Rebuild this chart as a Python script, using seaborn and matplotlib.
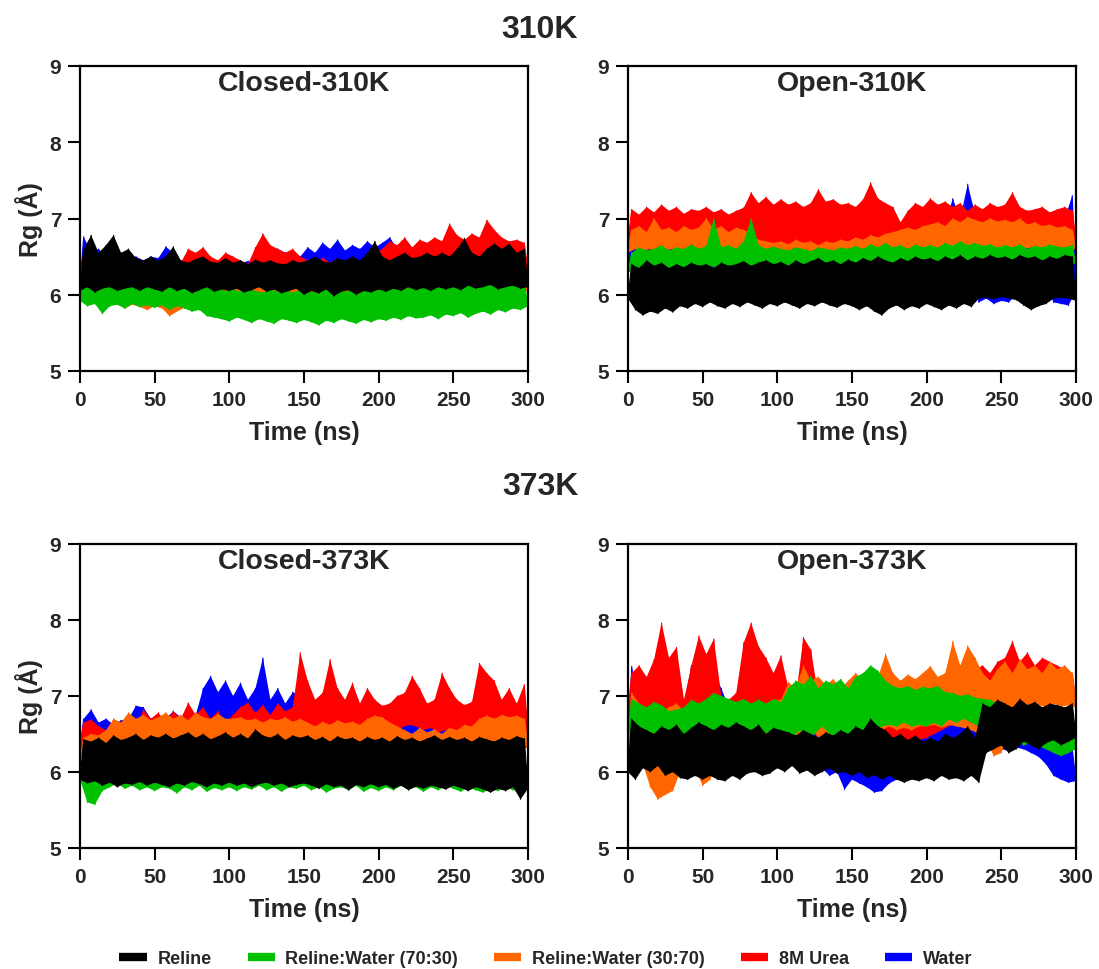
import numpy as np
import pandas as pd
import matplotlib
matplotlib.use("Agg")
import matplotlib.pyplot as plt
from matplotlib.lines import Line2D
from matplotlib.patches import Rectangle
import seaborn as sns

# ---------------------------------------------------------------------------
# Radius of gyration traces (Å) summarised by their troughs (every 5 ns)
# and peaks (half way between troughs).
# ---------------------------------------------------------------------------
SOLVENTS = ["Reline", "Reline:Water (70:30)", "Reline:Water (30:70)", "8M Urea", "Water"]
COLORS = ["#000000", "#00C000", "#FF6600", "#FF0000", "#0000FF"]
DRAW_ORDER = ["Water", "8M Urea", "Reline:Water (30:70)", "Reline:Water (70:30)", "Reline"]

TIME_LOW = np.arange(0, 301, 5)       # ns
TIME_HIGH = np.arange(2.5, 300, 5)    # ns

# ----------------------------- Closed-310K ---------------------------------
closed310_reline_hi = [6.6, 6.78, 6.55, 6.65, 6.78, 6.55, 6.6, 6.48, 6.45, 6.5,
                       6.45, 6.5, 6.63, 6.45, 6.42, 6.47, 6.5, 6.43, 6.42, 6.48,
                       6.42, 6.45, 6.4, 6.46, 6.42, 6.45, 6.41, 6.4, 6.45, 6.42,
                       6.45, 6.5, 6.44, 6.42, 6.48, 6.45, 6.5, 6.45, 6.55, 6.7,
                       6.5, 6.45, 6.5, 6.55, 6.48, 6.5, 6.55, 6.5, 6.55, 6.5,
                       6.6, 6.74, 6.55, 6.5, 6.6, 6.67, 6.6, 6.67, 6.55, 6.6]
closed310_reline_lo = [6.05, 6.1, 6.03, 6.08, 6.1, 6.05, 6.08, 6.1, 6.05, 6.1,
                       6.07, 6.04, 6.1, 6.05, 6.08, 6.02, 6.06, 6.1, 6.04, 6.07,
                       6.05, 6.08, 6.03, 6.06, 6.1, 6.04, 6.07, 6.02, 6.05, 6.08,
                       6.0, 6.05, 6.02, 6.07, 5.98, 6.04, 6.06, 6.0, 6.05, 6.03,
                       6.07, 6.04, 6.08, 6.05, 6.1, 6.06, 6.09, 6.05, 6.1, 6.07,
                       6.1, 6.06, 6.12, 6.08, 6.1, 6.13, 6.07, 6.1, 6.12, 6.08, 6.1]
closed310_rw7030_hi = [6.22, 6.18, 6.24, 6.2, 6.25, 6.2, 6.18, 6.22, 6.2, 6.24,
                       6.2, 6.18, 6.22, 6.17, 6.15, 6.12, 6.18, 6.1, 6.08, 6.05,
                       6.07, 6.04, 6.08, 6.05, 6.03, 6.07, 6.04, 6.06, 6.03, 6.07,
                       6.05, 6.03, 6.07, 6.05, 6.08, 6.04, 6.06, 6.03, 6.07, 6.05,
                       6.08, 6.06, 6.1, 6.07, 6.12, 6.08, 6.1, 6.12, 6.14, 6.1,
                       6.13, 6.15, 6.12, 6.16, 6.14, 6.18, 6.15, 6.17, 6.2, 6.16]
closed310_rw7030_lo = [5.92, 5.85, 5.88, 5.75, 5.85, 5.87, 5.82, 5.88, 5.84, 5.86,
                       5.83, 5.86, 5.8, 5.85, 5.82, 5.78, 5.8, 5.72, 5.7, 5.68,
                       5.65, 5.7, 5.67, 5.63, 5.68, 5.65, 5.62, 5.68, 5.66, 5.63,
                       5.67, 5.64, 5.6, 5.66, 5.63, 5.68, 5.65, 5.62, 5.67, 5.64,
                       5.68, 5.66, 5.7, 5.67, 5.72, 5.69, 5.7, 5.73, 5.68, 5.74,
                       5.72, 5.76, 5.7, 5.75, 5.78, 5.74, 5.8, 5.77, 5.82, 5.8, 5.85]
closed310_rw3070_hi = [6.35, 6.3, 6.38, 6.33, 6.36, 6.3, 6.35, 6.32, 6.36, 6.3,
                       6.33, 6.37, 6.3, 6.35, 6.32, 6.36, 6.3, 6.34, 6.38, 6.32,
                       6.36, 6.33, 6.38, 6.34, 6.37, 6.32, 6.36, 6.35, 6.4, 6.36,
                       6.42, 6.38, 6.4, 6.36, 6.41, 6.38, 6.35, 6.4, 6.37, 6.42,
                       6.38, 6.4, 6.36, 6.42, 6.38, 6.4, 6.37, 6.42, 6.39, 6.4,
                       6.42, 6.38, 6.41, 6.37, 6.4, 6.43, 6.38, 6.41, 6.4, 6.42]
closed310_rw3070_lo = [5.95, 5.9, 5.88, 5.92, 5.85, 5.9, 5.82, 5.87, 5.84, 5.8,
                       5.85, 5.82, 5.72, 5.78, 5.83, 5.8, 5.86, 5.9, 5.88, 5.92,
                       5.94, 5.9, 5.95, 5.92, 5.96, 5.93, 5.9, 5.95, 5.92, 5.94,
                       5.96, 5.92, 5.95, 5.93, 5.97, 5.94, 5.92, 5.96, 5.93, 5.95,
                       5.98, 5.95, 5.99, 5.96, 6.0, 5.97, 6.02, 5.98, 6.0, 5.97,
                       6.01, 5.98, 6.03, 6.0, 6.02, 5.99, 6.04, 6.01, 6.05, 6.02, 6.05]
closed310_urea_hi = [6.54, 6.45, 6.5, 6.42, 6.48, 6.45, 6.4, 6.44, 6.42, 6.46,
                     6.44, 6.4, 6.45, 6.42, 6.6, 6.55, 6.62, 6.5, 6.45, 6.55,
                     6.5, 6.45, 6.4, 6.62, 6.8, 6.65, 6.6, 6.55, 6.6, 6.5,
                     6.45, 6.4, 6.48, 6.42, 6.45, 6.4, 6.47, 6.44, 6.5, 6.55,
                     6.6, 6.7, 6.65, 6.75, 6.62, 6.72, 6.68, 6.75, 6.7, 6.93,
                     6.78, 6.72, 6.8, 6.75, 6.98, 6.85, 6.75, 6.7, 6.72, 6.68]
closed310_urea_lo = [6.2, 6.15, 6.22, 6.18, 6.2, 6.16, 6.21, 6.18, 6.2, 6.17,
                     6.19, 6.16, 6.2, 6.18, 6.22, 6.19, 6.2, 6.17, 6.21, 6.18,
                     6.2, 6.18, 6.22, 6.19, 6.23, 6.2, 6.22, 6.19, 6.21, 6.2,
                     6.2, 6.18, 6.21, 6.19, 6.2, 6.18, 6.22, 6.2, 6.21, 6.22,
                     6.24, 6.22, 6.26, 6.23, 6.28, 6.25, 6.27, 6.24, 6.28, 6.3,
                     6.28, 6.3, 6.27, 6.3, 6.32, 6.29, 6.3, 6.28, 6.31, 6.29, 6.3]
closed310_water_hi = [6.76, 6.55, 6.6, 6.5, 6.55, 6.45, 6.48, 6.5, 6.45, 6.5,
                      6.48, 6.63, 6.55, 6.45, 6.42, 6.45, 6.44, 6.42, 6.45, 6.43,
                      6.45, 6.42, 6.44, 6.43, 6.45, 6.5, 6.6, 6.55, 6.58, 6.5,
                      6.62, 6.55, 6.68, 6.6, 6.72, 6.58, 6.65, 6.6, 6.7, 6.62,
                      6.68, 6.75, 6.6, 6.55, 6.6, 6.55, 6.58, 6.55, 6.6, 6.55,
                      6.58, 6.55, 6.6, 6.55, 6.58, 6.6, 6.55, 6.62, 6.58, 6.6]
closed310_water_lo = [6.15, 6.2, 6.12, 6.18, 6.14, 6.19, 6.15, 6.2, 6.13, 6.17,
                      6.15, 6.19, 6.14, 6.18, 6.12, 6.16, 6.2, 6.15, 6.18, 6.14,
                      6.17, 6.13, 6.18, 6.15, 6.2, 6.16, 6.19, 6.14, 6.18, 6.2,
                      6.22, 6.18, 6.24, 6.2, 6.25, 6.21, 6.24, 6.2, 6.23, 6.25,
                      6.22, 6.26, 6.2, 6.24, 6.21, 6.25, 6.22, 6.26, 6.23, 6.25,
                      6.24, 6.27, 6.22, 6.26, 6.23, 6.27, 6.24, 6.28, 6.25, 6.27, 6.3]

# ------------------------------ Open-310K ----------------------------------
open310_reline_hi = [6.4, 6.35, 6.45, 6.38, 6.42, 6.35, 6.4, 6.36, 6.42, 6.38,
                     6.4, 6.35, 6.42, 6.38, 6.4, 6.44, 6.38, 6.42, 6.45, 6.4,
                     6.43, 6.38, 6.45, 6.4, 6.44, 6.48, 6.42, 6.45, 6.4, 6.46,
                     6.42, 6.48, 6.44, 6.5, 6.45, 6.42, 6.48, 6.44, 6.5, 6.46,
                     6.48, 6.44, 6.5, 6.46, 6.52, 6.45, 6.5, 6.47, 6.52, 6.48,
                     6.5, 6.46, 6.52, 6.48, 6.5, 6.45, 6.5, 6.47, 6.52, 6.5]
open310_reline_lo = [5.95, 5.8, 5.73, 5.78, 5.75, 5.82, 5.77, 5.85, 5.82, 5.88,
                     5.84, 5.9, 5.85, 5.82, 5.88, 5.84, 5.9, 5.86, 5.82, 5.88,
                     5.85, 5.9, 5.86, 5.82, 5.88, 5.85, 5.9, 5.86, 5.83, 5.88,
                     5.85, 5.8, 5.85, 5.78, 5.73, 5.82, 5.86, 5.8, 5.85, 5.82,
                     5.88, 5.84, 5.8, 5.86, 5.82, 5.88, 5.84, 5.95, 5.96, 5.94,
                     5.97, 5.95, 5.93, 5.86, 5.8, 5.85, 5.88, 5.95, 5.96, 5.95, 5.92]
open310_rw7030_hi = [6.55, 6.62, 6.58, 6.6, 6.65, 6.58, 6.62, 6.6, 6.66, 6.6,
                     6.64, 7.0, 6.62, 6.65, 6.6, 6.7, 7.0, 6.65, 6.6, 6.63,
                     6.6, 6.58, 6.62, 6.6, 6.57, 6.62, 6.6, 6.58, 6.62, 6.6,
                     6.64, 6.6, 6.66, 6.62, 6.68, 6.62, 6.65, 6.6, 6.66, 6.62,
                     6.65, 6.62, 6.68, 6.64, 6.7, 6.65, 6.68, 6.64, 6.66, 6.62,
                     6.65, 6.62, 6.66, 6.6, 6.64, 6.62, 6.66, 6.63, 6.62, 6.65]
open310_rw7030_lo = [6.3, 6.34, 6.3, 6.35, 6.32, 6.36, 6.33, 6.37, 6.34, 6.36,
                     6.35, 6.38, 6.34, 6.37, 6.35, 6.38, 6.36, 6.39, 6.36, 6.38,
                     6.37, 6.4, 6.36, 6.39, 6.37, 6.4, 6.38, 6.41, 6.37, 6.4,
                     6.38, 6.41, 6.37, 6.4, 6.38, 6.42, 6.39, 6.41, 6.38, 6.4,
                     6.39, 6.42, 6.38, 6.41, 6.39, 6.42, 6.4, 6.43, 6.39, 6.42,
                     6.4, 6.43, 6.39, 6.42, 6.4, 6.43, 6.41, 6.42, 6.4, 6.42, 6.4]
open310_rw3070_hi = [6.85, 6.9, 6.82, 7.0, 6.85, 6.88, 6.82, 6.9, 6.85, 6.88,
                     7.0, 6.85, 6.9, 6.82, 6.88, 6.85, 6.8, 6.72, 6.7, 6.68,
                     6.7, 6.66, 6.72, 6.68, 6.7, 6.65, 6.7, 6.68, 6.72, 6.7,
                     6.75, 6.72, 6.78, 6.75, 6.8, 6.82, 6.85, 6.88, 6.85, 6.9,
                     6.92, 6.95, 6.9, 7.0, 6.95, 7.02, 6.98, 6.95, 7.0, 6.96,
                     6.98, 6.95, 7.0, 6.92, 6.95, 6.9, 6.92, 6.88, 6.9, 6.85]
open310_rw3070_lo = [6.55, 6.6, 6.57, 6.6, 6.55, 6.58, 6.6, 6.56, 6.59, 6.55,
                     6.58, 6.56, 6.6, 6.57, 6.59, 6.55, 6.58, 6.55, 6.5, 6.52,
                     6.5, 6.48, 6.52, 6.5, 6.53, 6.49, 6.51, 6.5, 6.52, 6.5,
                     6.52, 6.5, 6.54, 6.52, 6.55, 6.53, 6.56, 6.58, 6.6, 6.58,
                     6.6, 6.62, 6.6, 6.63, 6.6, 6.62, 6.6, 6.64, 6.62, 6.6,
                     6.62, 6.6, 6.63, 6.6, 6.62, 6.58, 6.6, 6.58, 6.6, 6.57, 6.6]
open310_urea_hi = [7.12, 7.05, 7.15, 7.08, 7.18, 7.1, 7.15, 7.06, 7.12, 7.1,
                   7.15, 7.08, 7.12, 7.05, 7.1, 7.14, 7.34, 7.2, 7.28, 7.18,
                   7.25, 7.18, 7.22, 7.15, 7.2, 7.38, 7.22, 7.25, 7.18, 7.2,
                   7.15, 7.25, 7.47, 7.26, 7.2, 7.15, 6.95, 7.1, 7.2, 7.15,
                   7.26, 7.18, 7.22, 7.15, 7.2, 7.1, 7.18, 7.12, 7.2, 7.15,
                   7.18, 7.34, 7.15, 7.1, 7.12, 7.15, 7.08, 7.12, 7.15, 7.1]
open310_urea_lo = [6.7, 6.65, 6.72, 6.68, 6.7, 6.66, 6.72, 6.68, 6.7, 6.65,
                   6.7, 6.67, 6.72, 6.68, 6.7, 6.66, 6.68, 6.62, 6.65, 6.6,
                   6.62, 6.58, 6.63, 6.6, 6.64, 6.6, 6.62, 6.58, 6.64, 6.6,
                   6.63, 6.6, 6.65, 6.62, 6.66, 6.64, 6.68, 6.65, 6.7, 6.67,
                   6.7, 6.72, 6.68, 6.72, 6.7, 6.74, 6.7, 6.72, 6.75, 6.7,
                   6.73, 6.7, 6.75, 6.72, 6.74, 6.7, 6.72, 6.68, 6.72, 6.7, 6.72]
open310_water_hi = [6.9, 6.85, 6.92, 6.88, 6.9, 6.86, 6.9, 6.88, 6.92, 6.87,
                    6.9, 6.88, 6.92, 6.86, 6.9, 6.88, 6.92, 6.9, 6.88, 6.9,
                    6.92, 6.88, 6.9, 6.86, 6.9, 6.88, 6.92, 6.89, 6.9, 6.88,
                    6.9, 6.92, 6.88, 6.9, 6.92, 6.88, 6.9, 6.88, 6.92, 6.9,
                    6.95, 7.0, 6.95, 7.26, 7.0, 7.45, 7.05, 6.95, 6.92, 6.9,
                    6.92, 6.88, 6.9, 6.92, 6.88, 6.9, 6.95, 6.9, 7.0, 7.3]
open310_water_lo = [6.3, 6.32, 6.28, 6.3, 6.33, 6.29, 6.31, 6.3, 6.28, 6.3,
                    6.28, 6.3, 6.27, 6.29, 6.3, 6.32, 6.29, 6.3, 6.28, 6.31,
                    6.3, 6.28, 6.31, 6.29, 6.3, 6.28, 6.3, 6.27, 6.3, 6.28,
                    6.29, 6.27, 6.3, 6.28, 6.26, 6.29, 6.27, 6.3, 6.28, 6.26,
                    6.28, 6.25, 6.27, 6.24, 6.26, 6.2, 6.1, 5.9, 5.95, 5.88,
                    5.92, 5.9, 6.0, 6.02, 6.1, 6.05, 6.12, 5.9, 5.88, 5.86, 6.05]

# ----------------------------- Closed-373K ---------------------------------
closed373_reline_hi = [6.43, 6.4, 6.45, 6.38, 6.48, 6.42, 6.45, 6.5, 6.42, 6.48,
                       6.45, 6.5, 6.44, 6.48, 6.52, 6.45, 6.5, 6.43, 6.47, 6.52,
                       6.45, 6.5, 6.44, 6.56, 6.48, 6.45, 6.5, 6.42, 6.48, 6.45,
                       6.48, 6.42, 6.46, 6.4, 6.47, 6.43, 6.45, 6.4, 6.46, 6.42,
                       6.45, 6.4, 6.47, 6.42, 6.45, 6.4, 6.44, 6.48, 6.42, 6.46,
                       6.42, 6.45, 6.4, 6.46, 6.43, 6.4, 6.45, 6.42, 6.47, 6.44]
closed373_reline_lo = [5.9, 5.85, 5.88, 5.82, 5.86, 5.8, 5.85, 5.83, 5.87, 5.82,
                       5.86, 5.83, 5.8, 5.85, 5.82, 5.87, 5.84, 5.8, 5.85, 5.82,
                       5.86, 5.82, 5.85, 5.8, 5.84, 5.86, 5.82, 5.85, 5.8, 5.83,
                       5.85, 5.82, 5.78, 5.84, 5.8, 5.82, 5.76, 5.83, 5.8, 5.84,
                       5.8, 5.83, 5.78, 5.82, 5.76, 5.81, 5.78, 5.82, 5.8, 5.77,
                       5.82, 5.79, 5.75, 5.8, 5.77, 5.73, 5.78, 5.75, 5.8, 5.64, 5.78]
closed373_rw7030_hi = [6.15, 6.05, 6.1, 6.08, 6.12, 6.06, 6.1, 6.08, 6.12, 6.07,
                       6.1, 6.06, 6.12, 6.08, 6.1, 6.05, 6.1, 6.07, 6.12, 6.08,
                       6.1, 6.06, 6.1, 6.08, 6.12, 6.06, 6.1, 6.08, 6.1, 6.06,
                       6.1, 6.07, 6.12, 6.08, 6.1, 6.06, 6.1, 6.08, 6.12, 6.07,
                       6.1, 6.06, 6.1, 6.08, 6.12, 6.07, 6.1, 6.06, 6.1, 6.08,
                       6.1, 6.07, 6.12, 6.08, 6.1, 6.06, 6.1, 6.08, 6.12, 6.1]
closed373_rw7030_lo = [5.9, 5.6, 5.57, 5.75, 5.8, 5.85, 5.78, 5.82, 5.76, 5.8,
                       5.75, 5.8, 5.78, 5.72, 5.8, 5.76, 5.82, 5.74, 5.79, 5.76,
                       5.8, 5.75, 5.8, 5.77, 5.82, 5.76, 5.8, 5.74, 5.8, 5.78,
                       5.82, 5.76, 5.8, 5.73, 5.78, 5.8, 5.76, 5.82, 5.74, 5.79,
                       5.75, 5.8, 5.76, 5.82, 5.77, 5.8, 5.74, 5.8, 5.76, 5.82,
                       5.78, 5.74, 5.8, 5.76, 5.73, 5.78, 5.75, 5.8, 5.76, 5.8, 5.78]
closed373_rw3070_hi = [6.45, 6.5, 6.48, 6.55, 6.7, 6.65, 6.78, 6.7, 6.75, 6.68,
                       6.72, 6.78, 6.7, 6.75, 6.68, 6.78, 6.72, 6.7, 6.76, 6.7,
                       6.7, 6.72, 6.68, 6.7, 6.65, 6.7, 6.68, 6.72, 6.66, 6.7,
                       6.65, 6.6, 6.66, 6.62, 6.68, 6.64, 6.66, 6.62, 6.7, 6.74,
                       6.72, 6.65, 6.6, 6.55, 6.5, 6.58, 6.52, 6.56, 6.5, 6.58,
                       6.55, 6.62, 6.6, 6.7, 6.74, 6.7, 6.75, 6.72, 6.74, 6.7]
closed373_rw3070_lo = [6.2, 6.15, 6.22, 6.18, 6.24, 6.2, 6.25, 6.22, 6.26, 6.2,
                       6.24, 6.2, 6.26, 6.22, 6.25, 6.2, 6.24, 6.21, 6.25, 6.22,
                       6.25, 6.2, 6.24, 6.22, 6.26, 6.2, 6.25, 6.22, 6.24, 6.2,
                       6.28, 6.25, 6.3, 6.26, 6.28, 6.24, 6.3, 6.26, 6.28, 6.25,
                       6.3, 6.26, 6.32, 6.28, 6.3, 6.26, 6.32, 6.28, 6.3, 6.27,
                       6.3, 6.27, 6.32, 6.28, 6.34, 6.3, 6.32, 6.28, 6.33, 6.3, 6.32]
closed373_urea_hi = [6.65, 6.69, 6.6, 6.55, 6.5, 6.55, 6.52, 6.58, 6.82, 6.7,
                     6.78, 6.65, 6.8, 6.7, 6.91, 6.75, 6.85, 6.7, 6.8, 6.65,
                     6.75, 6.85, 6.91, 6.78, 6.88, 6.75, 6.9, 6.8, 6.85, 7.57,
                     7.2, 6.95, 7.04, 7.48, 7.1, 6.95, 7.17, 6.9, 7.1, 6.95,
                     6.87, 6.9, 7.0, 7.04, 7.26, 7.1, 6.9, 6.95, 7.3, 7.1,
                     6.95, 6.88, 6.92, 7.43, 7.3, 7.2, 6.95, 7.1, 6.9, 7.15]
closed373_urea_lo = [6.35, 6.3, 6.35, 6.32, 6.36, 6.33, 6.35, 6.3, 6.38, 6.35,
                     6.4, 6.36, 6.4, 6.38, 6.42, 6.38, 6.4, 6.36, 6.42, 6.38,
                     6.4, 6.42, 6.38, 6.44, 6.4, 6.45, 6.42, 6.46, 6.43, 6.5,
                     6.55, 6.5, 6.52, 6.55, 6.5, 6.56, 6.52, 6.55, 6.5, 6.55,
                     6.5, 6.55, 6.5, 6.58, 6.62, 6.6, 6.55, 6.58, 6.52, 6.55,
                     6.5, 6.55, 6.48, 6.52, 6.5, 6.55, 6.5, 6.52, 6.48, 6.5, 6.52]
closed373_water_hi = [6.7, 6.82, 6.65, 6.7, 6.62, 6.68, 6.7, 6.87, 6.85, 6.7,
                      6.75, 6.7, 6.8, 6.72, 6.78, 6.75, 7.1, 7.26, 7.05, 7.2,
                      7.0, 7.17, 6.95, 7.1, 7.5, 6.95, 7.1, 6.9, 7.05, 7.0,
                      6.85, 6.8, 6.75, 6.8, 6.72, 6.78, 6.7, 6.75, 6.72, 6.7,
                      6.68, 6.72, 6.7, 6.65, 6.7, 6.66, 6.7, 6.65, 6.6, 6.62,
                      6.6, 6.65, 6.62, 6.74, 6.68, 6.65, 6.6, 6.62, 6.6, 6.58]
closed373_water_lo = [6.3, 6.35, 6.32, 6.38, 6.34, 6.36, 6.33, 6.38, 6.35, 6.4,
                      6.36, 6.4, 6.38, 6.42, 6.4, 6.44, 6.42, 6.5, 6.45, 6.5,
                      6.48, 6.45, 6.5, 6.46, 6.5, 6.45, 6.48, 6.44, 6.48, 6.45,
                      6.45, 6.42, 6.46, 6.43, 6.45, 6.42, 6.44, 6.4, 6.44, 6.42,
                      6.4, 6.43, 6.4, 6.42, 6.4, 6.43, 6.4, 6.42, 6.38, 6.4,
                      6.38, 6.4, 6.37, 6.4, 6.38, 6.4, 6.36, 6.4, 6.38, 6.37, 6.4]

# ------------------------------ Open-373K ----------------------------------
open373_reline_hi = [6.7, 6.6, 6.55, 6.5, 6.6, 6.55, 6.62, 6.5, 6.58, 6.65,
                     6.6, 6.55, 6.62, 6.58, 6.65, 6.6, 6.55, 6.62, 6.5, 6.58,
                     6.55, 6.52, 6.48, 6.55, 6.5, 6.45, 6.52, 6.48, 6.55, 6.5,
                     6.6, 6.55, 6.7, 6.6, 6.55, 6.45, 6.5, 6.42, 6.48, 6.4,
                     6.45, 6.4, 6.5, 6.45, 6.5, 6.6, 6.45, 6.9, 6.85, 6.95,
                     6.9, 6.85, 6.96, 6.88, 6.92, 6.85, 6.9, 6.88, 6.85, 6.9]
open373_reline_lo = [6.0, 5.9, 6.05, 6.0, 6.08, 5.95, 6.0, 5.92, 5.9, 5.95,
                     5.9, 5.95, 5.9, 5.88, 5.95, 5.9, 5.98, 6.0, 5.95, 5.98,
                     6.05, 6.0, 6.08, 5.98, 6.02, 5.95, 6.0, 6.05, 5.98, 6.0,
                     5.95, 6.0, 5.92, 5.96, 5.9, 5.95, 5.9, 5.86, 5.9, 5.88,
                     5.92, 5.88, 5.95, 5.9, 5.92, 5.88, 5.95, 5.86, 6.25, 6.3,
                     6.35, 6.25, 6.3, 6.4, 6.35, 6.3, 6.38, 6.42, 6.35, 6.4, 6.45]
open373_rw7030_hi = [6.96, 6.9, 6.85, 6.92, 6.88, 6.8, 6.82, 6.85, 6.95, 6.9,
                     6.96, 7.04, 7.0, 6.96, 6.92, 6.96, 6.9, 6.95, 6.9, 6.96,
                     6.92, 7.1, 7.2, 7.15, 7.26, 7.1, 7.2, 7.15, 7.22, 7.1,
                     7.25, 7.3, 7.4, 7.33, 7.2, 7.13, 7.1, 7.13, 7.08, 7.12,
                     7.1, 7.13, 7.05, 7.04, 7.0, 7.02, 6.98, 6.96, 6.95, 6.9,
                     6.85, 6.8, 6.82, 6.78, 6.8, 6.75, 6.7, 6.72, 6.7, 6.65]
open373_rw7030_lo = [6.52, 6.5, 6.55, 6.5, 6.52, 6.48, 6.47, 6.5, 6.45, 6.4,
                     6.42, 6.39, 6.4, 6.45, 6.5, 6.52, 6.5, 6.55, 6.5, 6.52,
                     6.52, 6.5, 6.45, 6.55, 6.43, 6.5, 6.6, 6.5, 6.45, 6.5,
                     6.5, 6.55, 6.5, 6.55, 6.6, 6.62, 6.6, 6.65, 6.6, 6.62,
                     6.6, 6.65, 6.6, 6.69, 6.65, 6.7, 6.65, 6.6, 6.52, 6.5,
                     6.45, 6.34, 6.4, 6.35, 6.38, 6.34, 6.3, 6.25, 6.21, 6.25, 6.3]
open373_rw3070_hi = [7.04, 6.9, 6.85, 6.9, 6.8, 6.85, 6.9, 6.8, 6.88, 6.85,
                     6.9, 6.95, 6.9, 6.85, 6.9, 6.82, 6.88, 6.85, 6.9, 6.95,
                     6.95, 7.18, 7.1, 7.4, 7.2, 7.25, 7.15, 7.22, 7.1, 7.2,
                     7.3, 7.2, 7.35, 7.25, 7.55, 7.3, 7.2, 7.28, 7.22, 7.3,
                     7.39, 7.25, 7.3, 7.72, 7.4, 7.66, 7.5, 7.3, 7.2, 7.35,
                     7.45, 7.3, 7.48, 7.35, 7.4, 7.3, 7.45, 7.35, 7.4, 7.3]
open373_rw3070_lo = [6.3, 6.2, 6.1, 5.8, 5.64, 5.7, 5.75, 6.0, 6.1, 6.05,
                     5.82, 5.9, 6.1, 6.05, 6.15, 5.99, 6.05, 6.15, 6.2, 6.25,
                     6.3, 6.35, 6.5, 6.45, 6.4, 6.52, 6.38, 6.34, 6.42, 6.4,
                     6.5, 6.55, 6.5, 6.58, 6.55, 6.6, 6.55, 6.58, 6.55, 6.6,
                     6.6, 6.62, 6.58, 6.62, 6.6, 6.58, 6.55, 6.5, 6.4, 6.21,
                     6.25, 6.5, 6.82, 6.86, 6.84, 6.88, 6.85, 6.9, 6.86, 6.88, 6.85]
open373_urea_hi = [7.3, 7.4, 7.25, 7.48, 7.96, 7.5, 7.64, 6.95, 7.4, 7.79,
                   7.55, 7.75, 7.0, 6.95, 7.04, 7.7, 7.96, 7.65, 7.5, 7.3,
                   7.53, 7.1, 7.0, 7.77, 7.61, 7.0, 6.9, 6.95, 6.9, 7.05,
                   7.2, 6.75, 6.7, 6.8, 6.72, 6.75, 6.7, 6.78, 6.72, 6.8,
                   6.9, 7.1, 7.25, 7.15, 7.3, 7.2, 7.35, 7.4, 7.3, 7.45,
                   7.5, 7.72, 7.45, 7.57, 7.4, 7.5, 7.45, 7.4, 7.35, 7.3]
open373_urea_lo = [6.8, 6.75, 6.82, 6.74, 6.8, 6.76, 6.82, 6.75, 6.8, 6.78,
                   6.82, 6.76, 6.8, 6.75, 6.78, 6.74, 6.8, 6.76, 6.78, 6.75,
                   6.7, 6.6, 6.55, 6.5, 6.45, 6.5, 6.4, 6.35, 6.42, 6.38,
                   6.45, 6.4, 6.45, 6.42, 6.38, 6.45, 6.4, 6.43, 6.38, 6.42,
                   6.45, 6.5, 6.55, 6.6, 6.65, 6.7, 6.75, 6.8, 6.85, 6.88,
                   6.9, 6.92, 6.88, 6.95, 6.9, 6.92, 6.9, 6.95, 6.9, 6.92, 6.9]
open373_water_hi = [7.39, 6.9, 6.85, 6.8, 6.82, 6.85, 7.59, 6.9, 7.4, 7.2,
                    6.9, 7.3, 7.1, 6.85, 6.9, 6.8, 7.0, 6.95, 6.85, 6.9,
                    6.85, 6.8, 6.75, 6.8, 6.7, 6.72, 6.68, 6.7, 6.65, 6.6,
                    6.55, 6.5, 6.45, 6.4, 6.45, 6.5, 6.55, 6.52, 6.5, 6.55,
                    6.55, 6.6, 6.62, 6.65, 6.69, 6.65, 6.6, 6.7, 6.65, 6.7,
                    6.68, 6.7, 6.65, 6.6, 6.62, 6.55, 6.5, 6.45, 6.43, 6.3]
open373_water_lo = [6.2, 6.1, 6.08, 6.15, 6.2, 6.18, 6.2, 6.22, 6.2, 6.18,
                    6.2, 6.22, 6.18, 6.2, 6.22, 6.2, 6.18, 6.2, 6.22, 6.2,
                    6.15, 6.1, 6.12, 6.05, 6.08, 6.0, 6.05, 5.95, 6.0, 5.77,
                    5.9, 5.85, 5.8, 5.73, 5.75, 5.85, 5.9, 5.95, 5.92, 5.95,
                    5.98, 6.0, 5.95, 6.1, 6.34, 6.4, 6.35, 6.38, 6.3, 6.32,
                    6.3, 6.28, 6.32, 6.3, 6.25, 6.2, 6.1, 5.95, 5.9, 5.86, 5.88]

PANEL_TITLES = ["Closed-310K", "Open-310K", "Closed-373K", "Open-373K"]
ROW_TITLES = ["310K", "373K"]
X_TICKS = [0, 50, 100, 150, 200, 250, 300]
Y_TICKS = [5, 6, 7, 8, 9]

PANEL_SERIES = {
    "Closed-310K": {
        "Reline": (closed310_reline_lo, closed310_reline_hi),
        "Reline:Water (70:30)": (closed310_rw7030_lo, closed310_rw7030_hi),
        "Reline:Water (30:70)": (closed310_rw3070_lo, closed310_rw3070_hi),
        "8M Urea": (closed310_urea_lo, closed310_urea_hi),
        "Water": (closed310_water_lo, closed310_water_hi),
    },
    "Open-310K": {
        "Reline": (open310_reline_lo, open310_reline_hi),
        "Reline:Water (70:30)": (open310_rw7030_lo, open310_rw7030_hi),
        "Reline:Water (30:70)": (open310_rw3070_lo, open310_rw3070_hi),
        "8M Urea": (open310_urea_lo, open310_urea_hi),
        "Water": (open310_water_lo, open310_water_hi),
    },
    "Closed-373K": {
        "Reline": (closed373_reline_lo, closed373_reline_hi),
        "Reline:Water (70:30)": (closed373_rw7030_lo, closed373_rw7030_hi),
        "Reline:Water (30:70)": (closed373_rw3070_lo, closed373_rw3070_hi),
        "8M Urea": (closed373_urea_lo, closed373_urea_hi),
        "Water": (closed373_water_lo, closed373_water_hi),
    },
    "Open-373K": {
        "Reline": (open373_reline_lo, open373_reline_hi),
        "Reline:Water (70:30)": (open373_rw7030_lo, open373_rw7030_hi),
        "Reline:Water (30:70)": (open373_rw3070_lo, open373_rw3070_hi),
        "8M Urea": (open373_urea_lo, open373_urea_hi),
        "Water": (open373_water_lo, open373_water_hi),
    },
}


def trace_frame(name, lo, hi):
    """Interleave troughs and peaks into one trace."""
    assert len(lo) == len(TIME_LOW) and len(hi) == len(TIME_HIGH), name
    t = np.empty(len(lo) + len(hi))
    v = np.empty(len(lo) + len(hi))
    t[0::2], t[1::2] = TIME_LOW, TIME_HIGH
    v[0::2], v[1::2] = lo, hi
    return pd.DataFrame({"Time (ns)": t, "Rg": v, "Solvent": name})


# ---------------------------------------------------------------------------
sns.set_theme(style="ticks")
plt.rcParams["font.family"] = ["Liberation Sans", "DejaVu Sans"]
plt.rcParams["font.weight"] = "bold"
plt.rcParams["axes.labelweight"] = "bold"

W, H = 1099, 970
fig = plt.figure(figsize=(W / 100, H / 100), dpi=100)
palette = dict(zip(SOLVENTS, COLORS))

boxes = [(80, 67, 528, 372), (628, 67, 1076, 372),
         (80, 545, 528, 849), (628, 545, 1076, 849)]

for i, (title, (x0, y0, x1, y1)) in enumerate(zip(PANEL_TITLES, boxes)):
    ax = fig.add_axes([x0 / W, 1 - y1 / H, (x1 - x0) / W, (y1 - y0) / H])
    series = PANEL_SERIES[title]
    for k, name in enumerate(DRAW_ORDER):
        lo, hi = series[name]
        z = 2 + k
        # dense body of the fluctuating trace: peaks on top, troughs below
        ax.fill(np.r_[TIME_HIGH, TIME_LOW[::-1]], np.r_[hi, lo[::-1]],
                color=palette[name], linewidth=0, zorder=z)
        sns.lineplot(data=trace_frame(name, lo, hi), x="Time (ns)", y="Rg",
                     color=palette[name], estimator=None, linewidth=0.8,
                     legend=False, ax=ax, zorder=z + 0.5)
    ax.set_xlim(0, 300)
    ax.set_ylim(5, 9)
    ax.set_xticks(X_TICKS)
    ax.set_yticks(Y_TICKS)
    ax.tick_params(axis="both", direction="out", length=8.5, width=1.5,
                   labelsize=15, pad=5, color="black")
    for lab in ax.get_xticklabels() + ax.get_yticklabels():
        lab.set_fontweight("bold")
    for sp in ax.spines.values():
        sp.set_linewidth(1.6)
        sp.set_color("black")
        sp.set_visible(True)
        sp.set_zorder(20)
    ax.set_xlabel("Time (ns)", fontsize=18, fontweight="bold", labelpad=8)
    if i % 2 == 0:
        ax.set_ylabel("Rg (Å)", fontsize=18, fontweight="bold", labelpad=5)
    else:
        ax.set_ylabel("")
    ax.text(0.5, 0.944, title, transform=ax.transAxes, ha="center",
            va="center", fontsize=20.5, fontweight="bold", zorder=21)

fig.text(540 / W, 1 - 30 / H, ROW_TITLES[0], ha="center", va="center",
         fontsize=23, fontweight="bold")
fig.text(540 / W, 1 - 487 / H, ROW_TITLES[1], ha="center", va="center",
         fontsize=23, fontweight="bold")

# Legend strip along the bottom edge
fig.add_artist(Rectangle((0, 0), 1, 1 - 926 / H, transform=fig.transFigure,
                         facecolor="white", edgecolor="none", zorder=5))
handles = [Line2D([0], [0], color=c, linewidth=6, solid_capstyle="butt")
           for c in COLORS]
leg = fig.legend(handles, SOLVENTS, loc="center", ncol=5,
                 bbox_to_anchor=(546 / W, 1 - 960 / H), frameon=False,
                 prop={"size": 13, "weight": "bold"}, handlelength=1.5,
                 handletextpad=0.6, columnspacing=2.0)
leg.set_zorder(6)

fig.savefig("out.png", dpi=100)
